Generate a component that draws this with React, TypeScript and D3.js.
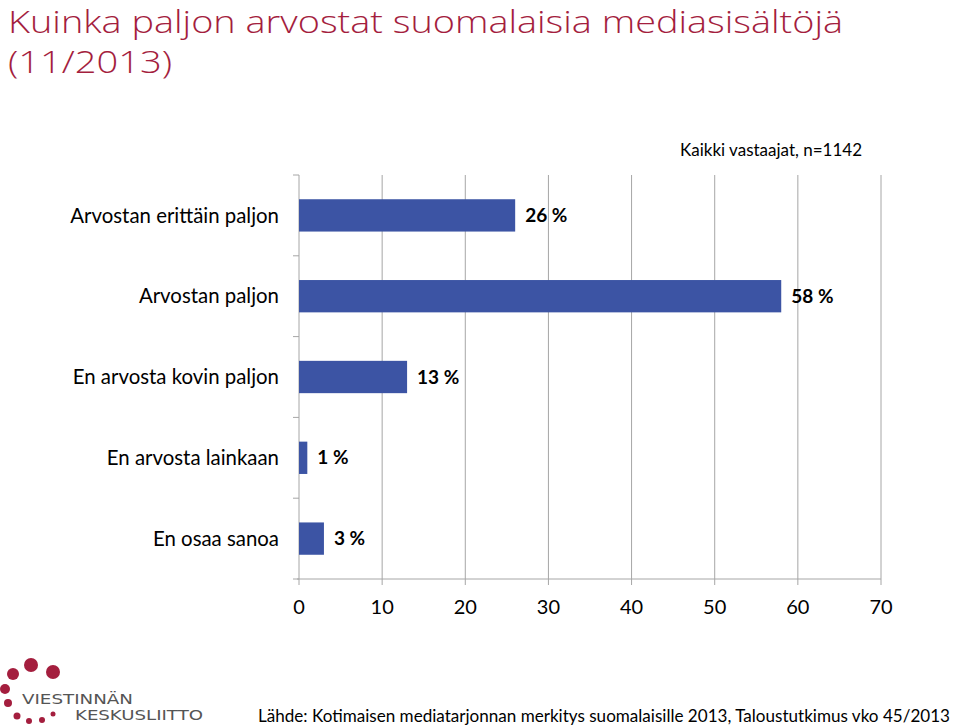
import React from "react";
import * as d3 from "d3";

const categories = [
  "Arvostan erittäin paljon",
  "Arvostan paljon",
  "En arvosta kovin paljon",
  "En arvosta lainkaan",
  "En osaa sanoa",
];
const values = [26, 58, 13, 1, 3];
const xTicks = [0, 10, 20, 30, 40, 50, 60, 70];

const titleLines = ["Kuinka paljon arvostat suomalaisia mediasisältöjä", "(11/2013)"];
const subtitle = "Kaikki vastaajat, n=1142";
const source = "Lähde: Kotimaisen mediatarjonnan merkitys suomalaisille 2013, Taloustutkimus vko 45/2013";

const W = 960;
const H = 728;
const left = 299;
const right = 881;
const top = 175;
const bottom = 579;

export default function App() {
  const x = d3.scaleLinear().domain([0, 70]).range([left, right]);
  const y = d3.scaleBand<string>().domain(categories).range([top, bottom]).paddingInner(0.6).paddingOuter(0.3);
  const bandEdges = d3.range(categories.length + 1).map((i) => top + (i * (bottom - top)) / categories.length);
  const font = "Lato, 'Open Sans', sans-serif";
  const grid = "#a6a6a6";

  const dots = [
    { cx: 31, cy: 665, r: 7 },
    { cx: 53, cy: 672, r: 7 },
    { cx: 13, cy: 674, r: 6 },
    { cx: 5, cy: 689, r: 5 },
    { cx: 8, cy: 703, r: 4 },
    { cx: 17, cy: 716, r: 3.5 },
    { cx: 29, cy: 721, r: 3 },
    { cx: 42, cy: 720, r: 3 },
    { cx: 53, cy: 714, r: 2.5 },
  ];

  return (
    <svg width={W} height={H} style={{ position: "absolute", left: 0, top: 0, background: "#fff" }}>
      <g fontFamily="'Open Sans', sans-serif" fontWeight={300} fill="#a41e3e" fontSize={32}>
        <text x={8} y={33} textLength={835} lengthAdjust="spacingAndGlyphs">{titleLines[0]}</text>
        <text x={8} y={73} textLength={164} lengthAdjust="spacingAndGlyphs">{titleLines[1]}</text>
      </g>
      <text x={862} y={156} textAnchor="end" fontFamily={font} fontSize={17} fill="#000">{subtitle}</text>

      {xTicks.map((t) => (
        <line key={"g" + t} x1={x(t)} x2={x(t)} y1={top} y2={bottom + 6} stroke={grid} strokeWidth={1} />
      ))}
      <line x1={left - 2} x2={right} y1={bottom} y2={bottom} stroke={grid} strokeWidth={1} />
      {bandEdges.map((e, i) => (
        <line key={"b" + i} x1={left - 6} x2={left} y1={e} y2={e} stroke={grid} strokeWidth={1} />
      ))}

      {categories.map((c, i) => (
        <g key={c}>
          <rect x={x(0)} y={y(c)!} width={x(values[i]) - x(0)} height={y.bandwidth()} fill="#3c54a4" />
          <text x={279} y={y(c)! + y.bandwidth() / 2} dy="0.35em" textAnchor="end" fontFamily={font} fontSize={20.4} fill="#000">{c}</text>
          <text x={x(values[i]) + 10} y={y(c)! + y.bandwidth() / 2} dy="0.35em" fontFamily={font} fontWeight="bold" fontSize={19} fill="#000">{values[i] + " %"}</text>
        </g>
      ))}

      {xTicks.map((t) => (
        <text key={"t" + t} x={x(t)} y={614} textAnchor="middle" fontFamily={font} fontSize={20} fill="#000">{t}</text>
      ))}

      {dots.map((d, i) => (
        <circle key={i} cx={d.cx} cy={d.cy} r={d.r} fill="#a41e3e" />
      ))}
      <text x={22} y={704} fontFamily="'DejaVu Sans', sans-serif" fontSize={14} fill="#555" textLength={111} lengthAdjust="spacingAndGlyphs">VIESTINNÄN</text>
      <text x={75} y={720} fontFamily="'DejaVu Sans', sans-serif" fontSize={14} fill="#555" textLength={128} lengthAdjust="spacingAndGlyphs">KESKUSLIITTO</text>

      <text x={950} y={722} textAnchor="end" fontFamily={font} fontSize={17} fill="#000" textLength={692} lengthAdjust="spacingAndGlyphs">{source}</text>
    </svg>
  );
}
